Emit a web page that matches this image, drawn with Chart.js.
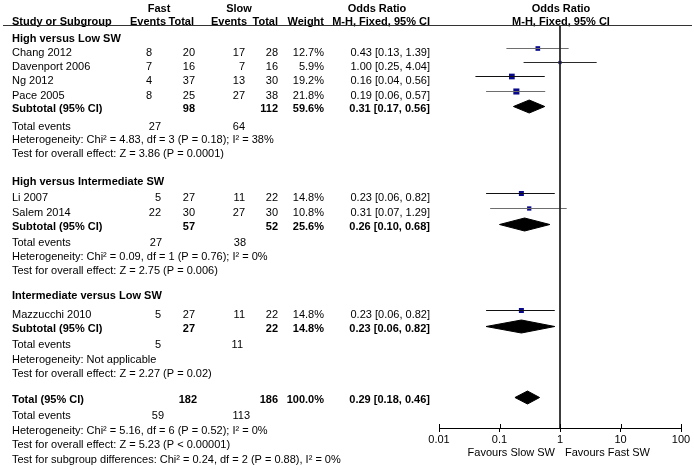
<!DOCTYPE html>
<html>
<head>
<meta charset="utf-8">
<script src="https://cdn.jsdelivr.net/npm/chart.js@4.4.0/dist/chart.umd.min.js"></script>
<style>
  body { margin: 0; background: #fff; }
  canvas { display: block; }
</style>
</head>
<body>
<canvas id="forestChart" width="694" height="470"></canvas>
<script>
  // ---- data ----
  const groups = ['High versus Low SW', 'High versus Intermediate SW', 'Intermediate versus Low SW'];

  const studies = ['Chang 2012', 'Davenport 2006', 'Ng 2012', 'Pace 2005', 'Li 2007', 'Salem 2014', 'Mazzucchi 2010'];
  const studyGroup = [0, 0, 0, 0, 1, 1, 2];
  const fastEvents = [8, 7, 4, 8, 5, 22, 5];
  const fastTotal = [20, 16, 37, 25, 27, 30, 27];
  const slowEvents = [17, 7, 13, 27, 11, 27, 11];
  const slowTotal = [28, 16, 30, 38, 22, 30, 22];
  const weights = [12.7, 5.9, 19.2, 21.8, 14.8, 10.8, 14.8];
  const oddsRatio = [0.43, 1.00, 0.16, 0.19, 0.23, 0.31, 0.23];
  const ciLow = [0.13, 0.25, 0.04, 0.06, 0.06, 0.07, 0.06];
  const ciHigh = [1.39, 4.04, 0.56, 0.57, 0.82, 1.29, 0.82];

  const subFastEvents = [27, 27, 5];
  const subSlowEvents = [64, 38, 11];
  const subFastTotal = [98, 57, 27];
  const subSlowTotal = [112, 52, 22];
  const subWeight = [59.6, 25.6, 14.8];
  const subOR = [0.31, 0.26, 0.23];
  const subLow = [0.17, 0.10, 0.06];
  const subHigh = [0.56, 0.68, 0.82];
  const subHet = [
    'Heterogeneity: Chi\u00b2 = 4.83, df = 3 (P = 0.18); I\u00b2 = 38%',
    'Heterogeneity: Chi\u00b2 = 0.09, df = 1 (P = 0.76); I\u00b2 = 0%',
    'Heterogeneity: Not applicable'
  ];
  const subEffect = [
    'Test for overall effect: Z = 3.86 (P = 0.0001)',
    'Test for overall effect: Z = 2.75 (P = 0.006)',
    'Test for overall effect: Z = 2.27 (P = 0.02)'
  ];

  const totalFastEvents = 59, totalSlowEvents = 113;
  const totalFastN = 182, totalSlowN = 186, totalWeight = 100.0;
  const totalOR = 0.29, totalLow = 0.18, totalHigh = 0.46;
  const totalHet = 'Heterogeneity: Chi\u00b2 = 5.16, df = 6 (P = 0.52); I\u00b2 = 0%';
  const totalEffect = 'Test for overall effect: Z = 5.23 (P < 0.00001)';
  const subgroupTest = 'Test for subgroup differences: Chi\u00b2 = 0.24, df = 2 (P = 0.88), I\u00b2 = 0%';

  const tickValues = [0.01, 0.1, 1, 10, 100];
  const favourLabels = ['Favours Slow SW', 'Favours Fast SW'];

  // ---- layout (row centres in px, column anchors) ----
  const yTop = 26, yBottom = 428;
  const groupHeadY = [38, 181, 295];
  const studyY = [52, 66, 80, 95, 197, 212, 314];
  const subtotalY = [108, 226, 328];
  const eventsY = [126, 242, 344];
  const hetY = [139, 256, 359];
  const effectY = [153, 270, 373];
  const totalY = 399, totalEventsY = 415, totalHetY = 430, totalEffectY = 444, subgroupY = 459;
  const markShift = -3.5, diamondShift = -1.5, diamondHalf = 6.5;

  const colName = 12, colFastTot = 195, colSlowEv = 245, colSlowTot = 278, colWeight = 324, colOR = 430;
  const studyFastEvX = [152, 152, 152, 152, 161, 161, 161];
  const eventsFastX = [161, 162, 161], eventsSlowX = [245, 246, 243];
  const ciColors = ['#6e6e6e', '#2a2a2a', '#111111', '#6e6e6e', '#111111', '#6e6e6e', '#111111'];
  const FONT = '"Liberation Sans", Arial, sans-serif';

  const fmt2 = v => v.toFixed(2);
  const orLabel = (o, l, h) => fmt2(o) + ' [' + fmt2(l) + ', ' + fmt2(h) + ']';

  // ---- datasets ----
  const datasets = [];

  // line of no effect
  datasets.push({
    data: [{ x: 1, y: yTop }, { x: 1, y: yBottom }],
    showLine: true, borderColor: '#222', borderWidth: 1, pointRadius: 0
  });

  // confidence intervals
  studies.forEach((s, i) => {
    datasets.push({
      data: [{ x: ciLow[i], y: studyY[i] + markShift }, { x: ciHigh[i], y: studyY[i] + markShift }],
      showLine: true, borderColor: ciColors[i], borderWidth: 1, pointRadius: 0
    });
  });

  // study squares, size from weight
  datasets.push({
    data: studies.map((s, i) => ({ x: oddsRatio[i], y: studyY[i] + markShift })),
    pointStyle: 'rect',
    pointRadius: weights.map(w => 1.3 * Math.sqrt(w) / Math.SQRT2),
    backgroundColor: '#08088a', borderWidth: 0
  });

  // diamonds
  function diamond(o, l, h, y) {
    const c = y + diamondShift;
    return {
      data: [{ x: l, y: c }, { x: o, y: c - diamondHalf }, { x: h, y: c }, { x: o, y: c + diamondHalf }, { x: l, y: c }],
      showLine: true, fill: 'shape', backgroundColor: '#000', borderColor: '#000', borderWidth: 1, pointRadius: 0
    };
  }
  groups.forEach((g, i) => datasets.push(diamond(subOR[i], subLow[i], subHigh[i], subtotalY[i])));
  datasets.push(diamond(totalOR, totalLow, totalHigh, totalY));

  // ---- text table plugin ----
  const tablePlugin = {
    id: 'table',
    afterDraw(chart) {
      const ctx = chart.ctx;
      const yS = chart.scales.y, xS = chart.scales.x;
      const py = v => yS.getPixelForValue(v);
      function txt(s, x, y, align, bold) {
        ctx.font = (bold ? 'bold ' : '') + '11px ' + FONT;
        ctx.textAlign = align || 'left';
        ctx.textBaseline = 'alphabetic';
        ctx.fillStyle = '#000';
        ctx.fillText(String(s), x, y + 4);
      }
      ctx.save();

      // header
      txt('Fast', 159, 8, 'center', true);
      txt('Slow', 239, 8, 'center', true);
      txt('Odds Ratio', 377, 8, 'center', true);
      txt('Odds Ratio', 561, 8, 'center', true);
      txt('Study or Subgroup', colName, 21, 'left', true);
      txt('Events', 166, 21, 'right', true);
      txt('Total', 194, 21, 'right', true);
      txt('Events', 247, 21, 'right', true);
      txt('Total', colSlowTot, 21, 'right', true);
      txt('Weight', colWeight, 21, 'right', true);
      txt('M-H, Fixed, 95% CI', colOR, 21, 'right', true);
      txt('M-H, Fixed, 95% CI', 561, 21, 'center', true);

      ctx.strokeStyle = '#333';
      ctx.lineWidth = 1;
      ctx.beginPath();
      ctx.moveTo(3, py(yTop) - 0.5);
      ctx.lineTo(692, py(yTop) - 0.5);
      ctx.stroke();

      groups.forEach((g, gi) => {
        txt(g, colName, py(groupHeadY[gi]), 'left', true);
        studies.forEach((s, i) => {
          if (studyGroup[i] !== gi) return;
          const y = py(studyY[i]);
          txt(s, colName, y);
          txt(fastEvents[i], studyFastEvX[i], y, 'right');
          txt(fastTotal[i], colFastTot, y, 'right');
          txt(slowEvents[i], colSlowEv, y, 'right');
          txt(slowTotal[i], colSlowTot, y, 'right');
          txt(weights[i].toFixed(1) + '%', colWeight, y, 'right');
          txt(orLabel(oddsRatio[i], ciLow[i], ciHigh[i]), colOR, y, 'right');
        });
        const sy = py(subtotalY[gi]);
        txt('Subtotal (95% CI)', colName, sy, 'left', true);
        txt(subFastTotal[gi], colFastTot, sy, 'right', true);
        txt(subSlowTotal[gi], colSlowTot, sy, 'right', true);
        txt(subWeight[gi].toFixed(1) + '%', colWeight, sy, 'right', true);
        txt(orLabel(subOR[gi], subLow[gi], subHigh[gi]), colOR, sy, 'right', true);
        const ey = py(eventsY[gi]);
        txt('Total events', colName, ey);
        txt(subFastEvents[gi], eventsFastX[gi], ey, 'right');
        txt(subSlowEvents[gi], eventsSlowX[gi], ey, 'right');
        txt(subHet[gi], colName, py(hetY[gi]));
        txt(subEffect[gi], colName, py(effectY[gi]));
      });

      const ty = py(totalY);
      txt('Total (95% CI)', colName, ty, 'left', true);
      txt(totalFastN, 197, ty, 'right', true);
      txt(totalSlowN, colSlowTot, ty, 'right', true);
      txt(totalWeight.toFixed(1) + '%', colWeight, ty, 'right', true);
      txt(orLabel(totalOR, totalLow, totalHigh), colOR, ty, 'right', true);
      txt('Total events', colName, py(totalEventsY));
      txt(totalFastEvents, 164, py(totalEventsY), 'right');
      txt(totalSlowEvents, 250, py(totalEventsY), 'right');
      txt(totalHet, colName, py(totalHetY));
      txt(totalEffect, colName, py(totalEffectY));
      txt(subgroupTest, colName, py(subgroupY));

      // favours labels under the axis
      const x1 = xS.getPixelForValue(1);
      txt(favourLabels[0], x1 - 5, 452, 'right');
      txt(favourLabels[1], x1 + 5, 452, 'left');

      // tick marks also reach above the axis line
      ctx.strokeStyle = '#000';
      tickValues.forEach(v => {
        const x = Math.round(xS.getPixelForValue(v)) + 0.5;
        ctx.beginPath();
        ctx.moveTo(x, yS.bottom - 4);
        ctx.lineTo(x, yS.bottom);
        ctx.stroke();
      });
      ctx.restore();
    }
  };

  const ctx = document.getElementById('forestChart').getContext('2d');
  new Chart(ctx, {
    type: 'scatter',
    data: { datasets: datasets },
    options: {
      responsive: false,
      animation: false,
      layout: { padding: { left: 439, right: 13, top: yTop, bottom: 0 } },
      plugins: { legend: { display: false }, tooltip: { enabled: false } },
      scales: {
        x: {
          type: 'logarithmic',
          position: 'bottom',
          min: 0.01,
          max: 100,
          afterBuildTicks: s => { s.ticks = tickValues.map(v => ({ value: v })); },
          afterFit: s => { s.height = 470 - yBottom; },
          border: { display: true, color: '#000', width: 1 },
          grid: { display: true, drawOnChartArea: false, drawTicks: true, tickLength: 4, color: '#000' },
          ticks: {
            autoSkip: false, maxRotation: 0, padding: 1, color: '#000',
            font: { family: FONT, size: 11 },
            callback: v => String(v)
          }
        },
        y: { type: 'linear', display: false, reverse: true, min: yTop, max: yBottom }
      }
    },
    plugins: [tablePlugin]
  });
</script>
</body>
</html>
